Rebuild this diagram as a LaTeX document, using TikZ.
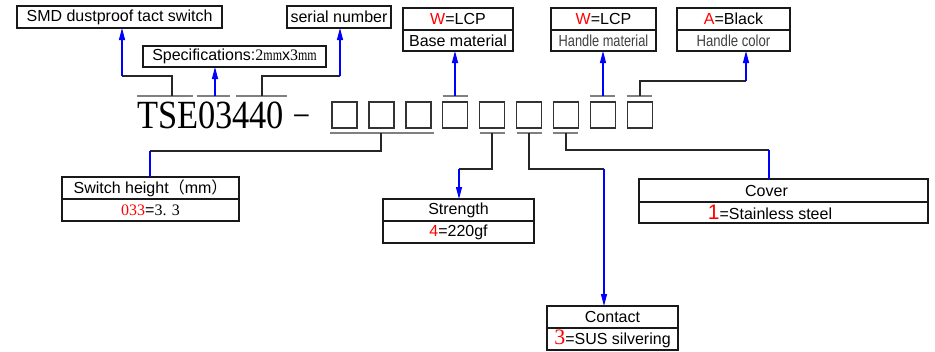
\documentclass[tikz,border=0pt]{standalone}
\usepackage{fontspec}
\newfontfamily\arial{Liberation Sans}
\newfontfamily\tnr{Liberation Serif}
\newfontfamily\cjk{Noto Sans CJK SC}
\usetikzlibrary{arrows.meta}
\begin{document}
\begin{tikzpicture}[x=1pt,y=-1pt,
  every node/.style={font=\arial\fontsize{16}{18}\selectfont, inner sep=0pt, outer sep=0pt},
  cell/.style={draw=black!90, line width=1.1pt, fill=white},
  sq/.style={draw=black!80, line width=1.4pt, minimum width=25pt, minimum height=26pt},
  bar/.style={draw=black!50, line width=1.6pt},
  con/.style={draw=black!85, line width=1.1pt},
  blu/.style={draw=blue, line width=1.2pt},
  arr/.style={blu, -{Triangle[length=12pt,width=6pt]}},
  grey text/.style={text=black!75}]
\useasboundingbox (0,0) rectangle (935,351);

% main code text
\node[anchor=base west, font=\tnr\fontsize{40}{40}\selectfont] (tse) at (137,128)
  {\scalebox{0.86}[1]{TSE03440}\kern8pt\raisebox{7pt}{\scalebox{1.4}[0.6]{-}}};

% squares
\foreach \i in {1,...,9}
  \node[sq] (s\i) at ({344.5+36.9*(\i-1)},115) {};

% top boxes
\node[cell, minimum width=205pt, minimum height=22pt] (smd) at (119.5,17) {SMD dustproof tact switch};
\node[cell, minimum width=104pt, minimum height=22pt] (serial) at (339,17) {serial number};
\node[cell, minimum width=183pt, minimum height=21pt] (spec) at (234.5,56.5)
  {Specifications:{\tnr 2\scalebox{0.75}[1]{mm}}x{\tnr 3\scalebox{0.75}[1]{mm}}};

\node[cell, minimum width=110pt, minimum height=22pt] (baseT) at (458,19) {\textcolor{red}{W}=LCP};
\node[cell, minimum width=110pt, minimum height=21pt] (baseB) at (458,40.5) {Base material};

\node[cell, minimum width=105pt, minimum height=22pt] (hmT) at (603.5,19) {\textcolor{red}{W}=LCP};
\node[cell, minimum width=105pt, minimum height=21pt, grey text] (hmB) at (603.5,40.5) {\scalebox{0.8}[1]{Handle material}};

\node[cell, minimum width=113pt, minimum height=22pt] (hcT) at (733.5,19) {\textcolor{red}{A}=Black};
\node[cell, minimum width=113pt, minimum height=21pt, grey text] (hcB) at (733.5,40.5) {\scalebox{0.82}[1]{Handle color}};

% bottom boxes
\node[cell, minimum width=177pt, minimum height=22pt] (swT) at (150.5,188) {Switch height{\cjk （}mm{\cjk ）}};
\node[cell, minimum width=177pt, minimum height=22pt] (swB) at (150.5,210) {\textcolor{red}{\tnr 033}={\tnr 3. 3}};

\node[cell, minimum width=151pt, minimum height=22pt] (stT) at (458.5,210) {Strength};
\node[cell, minimum width=151pt, minimum height=22pt] (stB) at (458.5,232) {\textcolor{red}{4}=220gf};

\node[cell, minimum width=131pt, minimum height=22pt] (ctT) at (612.5,317) {Contact};
\node[cell, minimum width=131pt, minimum height=22pt] (ctB) at (612.5,339) {\textcolor{red}{\tnr\fontsize{22}{22}\selectfont 3}=SUS silvering};

\node[cell, minimum width=289pt, minimum height=23pt] (cvT) at (783.5,190.5) {Cover\hspace*{34pt}};
\node[cell, minimum width=289pt, minimum height=21pt] (cvB) at (783.5,212.5) {\textcolor{red}{\fontsize{21}{21}\selectfont 1}=Stainless steel\hspace*{27pt}};

% bars over the code text
\coordinate (b1L) at (137,96); \coordinate (b1R) at (193,96);
\coordinate (b2L) at (197,96); \coordinate (b2R) at (230,96);
\coordinate (b3L) at (236,96); \coordinate (b3R) at (287,96);
\draw[bar] (b1L) -- (b1R);
\draw[bar] (b2L) -- (b2R);
\draw[bar] (b3L) -- (b3R);

% bars over squares
\foreach \i in {4,8,9}
  \draw[bar] ([yshift=6pt]s\i.north west) -- ([yshift=6pt]s\i.north east);
% bars under squares
\draw[bar] ([xshift=-2pt,yshift=-5pt]s1.south west) -- ([xshift=3pt,yshift=-5pt]s3.south east);
\foreach \i in {5,6,7}
  \draw[bar] ([yshift=-5pt]s\i.south west) -- ([yshift=-5pt]s\i.south east);

% top connectors
\coordinate (m1) at (172,96); \coordinate (k1) at (122,76);
\draw[con] (m1) |- (k1);
\draw[arr] (k1) -- (k1 |- smd.south);

\coordinate (m2) at (215,96);
\draw[arr] (m2) -- (m2 |- spec.south);

\coordinate (m3) at (262,96); \coordinate (k3) at (340,76);
\draw[con] (m3) |- (k3);
\draw[arr] (k3) -- (k3 |- serial.south);

\coordinate (tb) at (455,96);
\draw[arr] (tb) -- (tb |- baseB.south);

\coordinate (th) at (603,96);
\draw[arr] (th) -- (th |- hmB.south);

\coordinate (tc) at (640,96); \coordinate (kc) at (746,81);
\draw[con] (tc) |- (kc);
\draw[arr] (kc) -- (kc |- hcB.south);

% bottom connectors
\coordinate (u2) at (381,133); \coordinate (k7) at (150,151);
\draw[con] (u2) |- (k7);
\draw[blu] (k7) -- (k7 |- swT.north);

\coordinate (u5) at (492,133); \coordinate (k5) at (459,169);
\draw[con] (u5) |- (k5);
\draw[arr] (k5) -- (k5 |- stT.north);

\coordinate (u6) at (529,133); \coordinate (k6) at (604,169);
\draw[con] (u6) |- (k6);
\draw[arr] (k6) -- (k6 |- ctT.north);

\coordinate (u7) at (566,133); \coordinate (k10) at (769,150);
\draw[con] (u7) |- (k10);
\draw[blu] (k10) -- (k10 |- cvT.north);
\end{tikzpicture}
\end{document}
